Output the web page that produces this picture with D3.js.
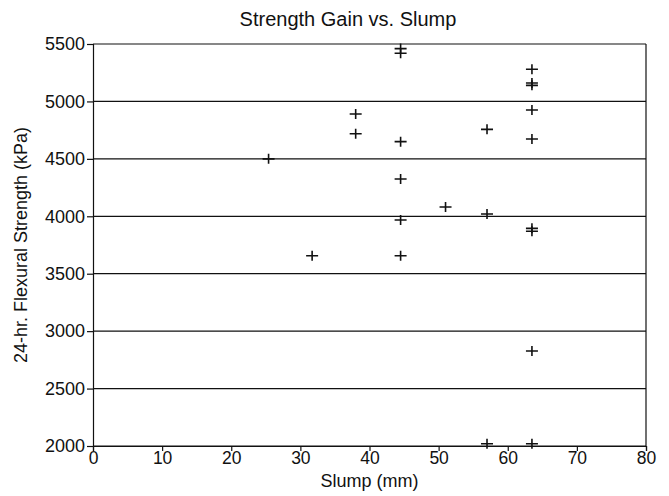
<!DOCTYPE html>
<html>
<head>
<meta charset="utf-8">
<script src="https://cdn.jsdelivr.net/npm/d3@7"></script>
<style>
  body { margin: 0; background: #fff; }
  svg { font-family: "Liberation Sans", Arial, sans-serif; }
</style>
</head>
<body>
<div id="chart"></div>
<script>
// slump (mm) and 24-hr flexural strength (kPa)
const slump = [44.5, 44.5, 44.5, 44.5, 44.5, 44.5,
               63.5, 63.5, 63.5, 63.5, 63.5, 63.5, 63.5, 63.5, 63.5,
               57, 57, 57,
               38, 38,
               51, 31.7, 25.4];
const strength = [5460, 5420, 4650, 4325, 3968, 3657,
                  5280, 5160, 5140, 4925, 4673, 3895, 3870, 2827, 2020,
                  4757, 4020, 2020,
                  4890, 4719,
                  4081, 3657, 4500];
const xTicks = [0, 10, 20, 30, 40, 50, 60, 70, 80];
const yTicks = [2000, 2500, 3000, 3500, 4000, 4500, 5000, 5500];

const W = 669, H = 496;
const m = { top: 44, right: 23, bottom: 50, left: 93 };

const svg = d3.select('#chart').append('svg')
  .attr('width', W).attr('height', H);

const x = d3.scaleLinear().domain([0, 80]).range([m.left, W - m.right]);
const y = d3.scaleLinear().domain([2000, 5500]).range([H - m.bottom, m.top]);

// horizontal grid
svg.append('g')
  .selectAll('line')
  .data(yTicks)
  .join('line')
  .attr('x1', x(0)).attr('x2', x(80))
  .attr('y1', d => y(d)).attr('y2', d => y(d))
  .attr('stroke', '#111').attr('stroke-width', 1.2);

// right border
svg.append('line')
  .attr('x1', x(80)).attr('x2', x(80))
  .attr('y1', y(5500)).attr('y2', y(2000))
  .attr('stroke', '#111').attr('stroke-width', 1.2);

svg.append('g')
  .attr('transform', `translate(0,${y(2000)})`)
  .call(d3.axisBottom(x).tickValues(xTicks).tickSize(5).tickPadding(1))
  .call(g => g.selectAll('path, line').attr('stroke', '#111').attr('stroke-width', 1.2))
  .call(g => g.selectAll('text').attr('font-size', '17.5px').attr('fill', '#111'));

svg.append('g')
  .attr('transform', `translate(${x(0)},0)`)
  .call(d3.axisLeft(y).tickValues(yTicks).tickFormat(d3.format('d')).tickSize(6).tickPadding(2))
  .call(g => g.selectAll('path, line').attr('stroke', '#111').attr('stroke-width', 1.2))
  .call(g => g.selectAll('text').attr('font-size', '18px').attr('fill', '#111'));

// plus markers
const pts = slump.map((s, i) => [s, strength[i]]);
svg.append('g')
  .selectAll('path')
  .data(pts)
  .join('path')
  .attr('d', d => {
    const cx = x(d[0]), cy = y(d[1]);
    return `M${cx - 6},${cy}H${cx + 6}M${cx},${cy - 5}V${cy + 5}`;
  })
  .attr('stroke', '#111').attr('stroke-width', 1.6).attr('fill', 'none');

svg.append('text')
  .attr('x', 348).attr('y', 26)
  .attr('text-anchor', 'middle')
  .attr('font-size', '20px').attr('fill', '#111')
  .text('Strength Gain vs. Slump');

svg.append('text')
  .attr('x', (x(0) + x(80)) / 2).attr('y', 487)
  .attr('text-anchor', 'middle')
  .attr('font-size', '18px').attr('fill', '#111')
  .text('Slump (mm)');

svg.append('text')
  .attr('transform', `translate(27,${(y(2000) + y(5500)) / 2}) rotate(-90)`)
  .attr('text-anchor', 'middle')
  .attr('font-size', '18px').attr('fill', '#111')
  .text('24-hr. Flexural Strength (kPa)');
</script>
</body>
</html>
